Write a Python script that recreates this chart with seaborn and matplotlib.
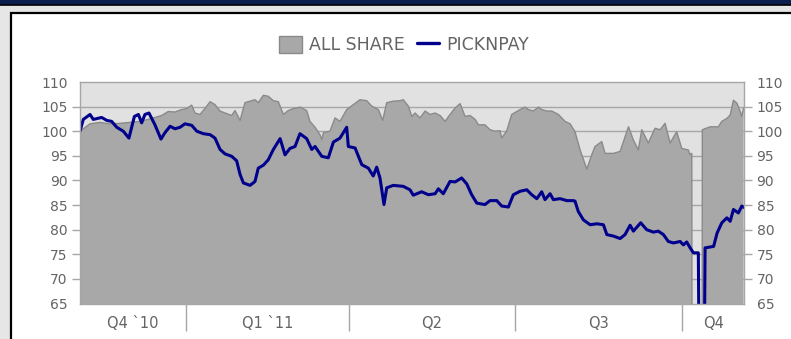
import numpy as np
import pandas as pd
import matplotlib
matplotlib.use("Agg")
import matplotlib.pyplot as plt
from matplotlib.patches import Patch, Rectangle
from matplotlib.lines import Line2D
import seaborn as sns

# ---------------- data (x = days since 2010-11-04) ----------------
quarter_edges = [0, 58, 148, 239, 331, 365]
quarter_labels = ["Q4 `10", "Q1 `11", "Q2", "Q3", "Q4"]
y_ticks = [65, 70, 75, 80, 85, 90, 95, 100, 105, 110]

share_days = [0, 5.5, 11.0, 16.5, 22.0, 27.5, 33.0, 38.5, 41.2, 44.9, 48.5, 52.2, 55.9,
              58.7, 61.4, 63.2, 66.0, 69.7, 71.5, 74.2, 77.0, 79.7, 83.4, 85.2, 88.0,
              90.7, 93.5, 96.2, 98.0, 100.8, 103.5, 106.3, 109.0, 111.8, 114.5, 117.3,
              119.1, 120.9, 124.6, 126.4, 129.2, 131.9, 132.9, 133.8, 137.4, 140.2,
              142.9, 146.6, 150.2, 153.9, 157.6, 160.4, 164.0, 166.4, 168.6, 172.2,
              175.9, 177.7, 180.5, 182.4, 184.2, 186.9, 189.7, 192.4, 195.2, 197.9,
              200.7, 203.4, 206.2, 208.9, 211.7, 214.4, 217.2, 219.0, 222.6, 225.4,
              228.1, 230.9, 231.8, 234.6, 237.3, 241.0, 244.6, 246.5, 249.2, 252.0,
              253.8, 256.6, 259.3, 263.0, 266.6, 269.4, 272.1, 274.9, 278.6, 281.3,
              283.1, 286.8, 288.6, 293.2, 296.9, 301.5, 304.2, 306.9, 308.8, 312.4,
              316.1, 318.9, 321.6, 324.4, 328.0, 330.8, 334.4, 335.4, 336.3, 336.6,
              341.9, 342.1, 346.4, 350.9, 352.8, 355.6, 357.4, 359.2, 361.1, 362.9,
              363.8, 364.7]
share_vals = [100.0, 101.5, 101.8, 101.5, 101.6, 101.8, 102.0, 102.5, 102.8, 103.2, 104.0,
              103.9, 104.4, 104.6, 105.3, 103.7, 103.4, 105.1, 106.0, 105.4, 104.1, 103.7,
              103.2, 104.2, 102.2, 105.8, 106.1, 106.4, 105.8, 107.3, 107.1, 106.2, 106.0,
              103.4, 104.2, 104.6, 104.7, 104.9, 104.2, 102.0, 100.8, 99.3, 98.3, 99.7,
              100.0, 102.7, 102.0, 104.4, 105.4, 106.4, 106.2, 105.1, 104.4, 102.2, 105.8,
              106.1, 106.2, 106.4, 105.1, 103.0, 103.7, 102.7, 104.1, 103.4, 103.7, 103.2,
              102.0, 103.4, 104.7, 105.6, 103.0, 103.2, 102.4, 101.3, 101.3, 100.3, 100.0,
              100.1, 98.6, 100.1, 103.4, 104.2, 104.9, 104.4, 104.1, 104.9, 104.4, 104.1,
              104.1, 103.4, 102.0, 101.5, 99.9, 96.2, 92.3, 95.2, 96.9, 97.9, 95.5, 95.5,
              95.9, 100.9, 98.2, 96.2, 100.3, 97.6, 100.6, 100.3, 101.6, 97.6, 99.9, 96.5,
              96.2, 95.2, 95.5, 0.0, 0.0, 100.3, 100.9, 100.9, 102.0, 102.6, 103.3, 106.3,
              105.7, 104.0, 103.0, 104.7]

pnp_days = [0, 1.8, 5.5, 7.3, 11.9, 14.7, 17.4, 20.2, 23.8, 26.9, 29.9, 32.1, 33.9, 35.7,
            37.9, 41.2, 44.5, 46.7, 49.5, 52.2, 55.0, 57.7, 61.4, 64.2, 67.8, 71.5, 74.2,
            77.0, 79.7, 83.4, 86.1, 88.0, 89.8, 93.5, 96.2, 98.0, 100.8, 103.5, 106.3,
            110.0, 112.7, 115.4, 118.2, 120.9, 124.6, 127.4, 129.2, 132.9, 136.5, 139.3,
            142.9, 146.6, 147.5, 151.2, 154.9, 158.5, 161.2, 163.1, 164.9, 167.1, 168.6,
            172.2, 177.7, 181.4, 183.2, 187.8, 191.5, 195.2, 197.0, 199.7, 203.4, 206.2,
            209.8, 212.6, 215.3, 218.1, 222.6, 225.4, 229.1, 231.8, 235.5, 238.2, 241.9,
            245.6, 248.3, 251.1, 253.8, 255.6, 258.4, 260.2, 263.9, 267.6, 271.2, 272.1,
            273.9, 276.7, 280.4, 284.1, 287.7, 289.6, 293.2, 296.9, 299.6, 302.4, 304.2,
            308.2, 311.5, 315.2, 317.9, 320.7, 323.4, 326.2, 329.9, 331.7, 333.5, 335.4,
            337.2, 339.9, 340.3, 343.2, 343.6, 348.3, 350.2, 352.8, 355.6, 357.4, 359.2,
            361.9, 363.8, 365.0]
pnp_vals = [100.0, 102.4, 103.4, 102.4, 102.8, 102.2, 102.0, 100.8, 100.0, 98.6, 103.0,
            103.4, 101.7, 103.4, 103.7, 101.3, 98.4, 99.7, 101.0, 100.5, 100.8, 101.5,
            101.2, 100.0, 99.5, 99.3, 98.6, 96.3, 95.4, 94.9, 94.0, 91.2, 89.5, 89.0, 89.8,
            92.5, 93.1, 94.2, 96.3, 98.5, 95.2, 96.5, 96.9, 99.5, 98.5, 96.3, 96.9, 94.9,
            94.6, 97.8, 98.6, 100.8, 96.9, 96.6, 93.2, 92.5, 90.9, 92.7, 90.5, 85.1, 88.5,
            89.0, 88.8, 88.1, 87.0, 87.7, 87.1, 87.3, 88.3, 87.3, 89.8, 89.7, 90.5, 89.3,
            87.1, 85.4, 85.1, 85.9, 85.9, 84.8, 84.6, 87.1, 87.8, 88.1, 87.1, 86.3, 87.7,
            86.1, 87.3, 86.1, 86.3, 85.9, 85.9, 85.8, 83.7, 82.0, 81.0, 81.2, 81.0, 79.0,
            78.7, 78.2, 79.0, 80.9, 79.7, 81.4, 80.0, 79.5, 79.7, 79.0, 77.6, 77.3, 77.6,
            76.9, 77.5, 76.3, 75.3, 75.3, 55.0, 55.0, 76.3, 76.6, 79.3, 81.4, 82.4, 81.7,
            84.1, 83.4, 84.8, 84.5]

share = pd.DataFrame({"day": share_days, "value": share_vals})
pnp = pd.DataFrame({"day": pnp_days, "value": pnp_vals})

# ---------------- styling ----------------
sns.set_style("white")
plt.rcParams["font.family"] = ["DejaVu Sans"]

W, H = 791, 339
fig = plt.figure(figsize=(W / 100, H / 100), dpi=100)
fig.patch.set_facecolor("#e6e6e6")

# page decoration: navy header band, white panel with black frame
fig.add_artist(Rectangle((0, 1 - 4.5 / H), 1, 4.5 / H, transform=fig.transFigure,
                         facecolor="#0b1f4f", edgecolor="none", zorder=0))
fig.add_artist(Line2D([0, 1], [1 - 5 / H, 1 - 5 / H], transform=fig.transFigure,
                      color="black", lw=1.2, zorder=1))
fig.add_artist(Rectangle((10.5 / W, -0.05), 1.1, 1 - 13.5 / H + 0.05,
                         transform=fig.transFigure, facecolor="white",
                         edgecolor="black", lw=1.6, zorder=0))

ax = fig.add_axes([80 / W, 1 - 303.5 / H, 664 / W, (303.5 - 82) / H])
ax.set_facecolor("#e1e1e1")
ax.set_xlim(quarter_edges[0], quarter_edges[-1])
ax.set_ylim(y_ticks[0], y_ticks[-1])

grid_c = "#a6a6a6"
for v in y_ticks[1:-1]:
    ax.axhline(v, color=grid_c, lw=1, zorder=1)

area_fill = "#a8a8a8"
area_edge = "#8a8a8a"
ax.fill_between(share["day"], share["value"], 0, color=area_fill, lw=0, zorder=2)
sns.lineplot(data=share, x="day", y="value", ax=ax, color=area_edge, lw=1,
             estimator=None, sort=False, zorder=3)

line_c = "#00008c"
sns.lineplot(data=pnp, x="day", y="value", ax=ax, color=line_c, lw=2.2,
             estimator=None, sort=False, zorder=4)

ax.set_xlabel("")
ax.set_ylabel("")

for s in ax.spines.values():
    s.set_color("#a6a6a6")
    s.set_linewidth(1)
    s.set_zorder(5)

# y axis on both sides
txt_c = "#646464"
ax.set_yticks(y_ticks)
ax.tick_params(axis="y", which="major", left=True, right=True, labelleft=True,
               labelright=True, length=6, width=1, color=grid_c, pad=3,
               labelsize=10, labelcolor=txt_c)
yt = ax.yaxis.get_major_ticks()
for t in (yt[0], yt[-1]):
    t.tick1line.set_visible(False)
    t.tick2line.set_visible(False)

# x axis: quarter labels centered, separators at quarter boundaries
mids = [(a + b) / 2 for a, b in zip(quarter_edges[:-1], quarter_edges[1:])]
ax.set_xticks(mids)
ax.set_xticklabels(quarter_labels)
ax.set_xticks(quarter_edges[1:-1], minor=True)
ax.tick_params(axis="x", which="major", length=0, pad=9, labelsize=10.5,
               labelcolor=txt_c)
ax.tick_params(axis="x", which="minor", bottom=True, length=19.5, width=1,
               color="#a6a6a6")

# legend
handles = [Patch(facecolor=area_fill, edgecolor=area_edge, lw=1, label="ALL SHARE"),
           Line2D([0], [0], color=line_c, lw=2.4, label="PICKNPAY")]
leg = fig.legend(handles=handles, loc="center", bbox_to_anchor=(404 / W, 1 - 45 / H),
                 ncol=2, frameon=False, fontsize=12.5, handlelength=1.3,
                 handleheight=1.1, handletextpad=0.4, columnspacing=0.7,
                 borderpad=0, borderaxespad=0)
for t in leg.get_texts():
    t.set_color(txt_c)

fig.savefig("out.png", dpi=100, facecolor=fig.get_facecolor())
